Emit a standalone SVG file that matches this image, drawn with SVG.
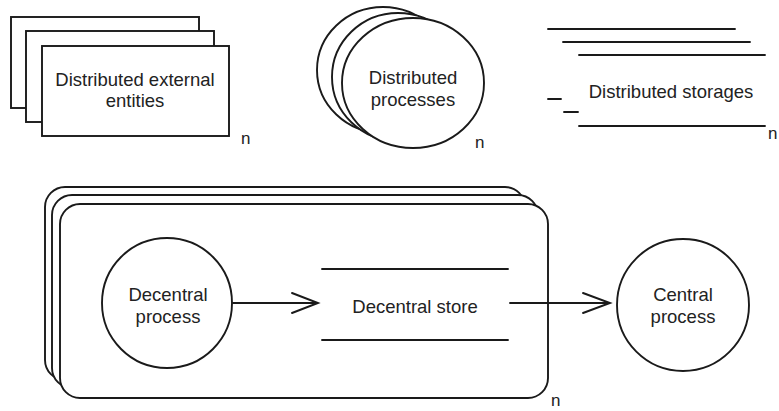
<svg xmlns="http://www.w3.org/2000/svg" width="779" height="411" viewBox="0 0 779 411">
<style>
.s{fill:#fff;stroke:#1a1a1a;stroke-width:1.9}
.l{fill:none;stroke:#1a1a1a;stroke-width:1.9;stroke-linecap:round}
.t{font-family:"Liberation Sans",Arial,sans-serif;font-size:18.5px;fill:#222;text-anchor:middle}
.n{font-family:"Liberation Sans",Arial,sans-serif;font-size:17px;fill:#222}
</style>
<rect width="779" height="411" fill="#fff"/>
<g id="ext-entities">
<rect class="s" x="11" y="17" width="188" height="91"/>
<rect class="s" x="26" y="31" width="188" height="91"/>
<rect class="s" x="42" y="46" width="187" height="90"/>
<text class="t" x="135" y="86">Distributed external</text>
<text class="t" x="135" y="107">entities</text>
<text class="n" x="241" y="144">n</text>
</g>
<g id="dist-processes">
<ellipse class="s" cx="383" cy="70" rx="66" ry="63"/>
<ellipse class="s" cx="398" cy="77" rx="66" ry="64"/>
<ellipse class="s" cx="413" cy="83" rx="71" ry="65"/>
<text class="t" x="413" y="84">Distributed</text>
<text class="t" x="413" y="106">processes</text>
<text class="n" x="475" y="148">n</text>
</g>
<g id="dist-storages">
<line class="l" x1="548" y1="29" x2="735" y2="29"/>
<line class="l" x1="563" y1="42" x2="750" y2="42"/>
<line class="l" x1="579" y1="55" x2="765" y2="55"/>
<line class="l" x1="548" y1="99" x2="561" y2="99"/>
<line class="l" x1="564" y1="112" x2="578" y2="112"/>
<line class="l" x1="579" y1="126" x2="765" y2="126"/>
<text class="t" x="671" y="98">Distributed storages</text>
<text class="n" x="768" y="139">n</text>
</g>
<g id="container">
<rect class="s" x="45" y="187" width="480" height="193" rx="20"/>
<rect class="s" x="52" y="195" width="486" height="193" rx="20"/>
<rect class="s" x="60" y="204" width="488" height="194" rx="20"/>
<text class="n" x="551" y="406">n</text>
</g>
<g id="decentral-process">
<circle class="s" cx="167" cy="303" r="65"/>
<text class="t" x="168" y="301">Decentral</text>
<text class="t" x="168" y="323">process</text>
</g>
<g id="decentral-store">
<line class="l" x1="322" y1="269" x2="508" y2="269"/>
<line class="l" x1="322" y1="340" x2="508" y2="340"/>
<text class="t" x="415" y="313">Decentral store</text>
</g>
<g id="central-process">
<circle class="s" cx="683" cy="305" r="66"/>
<text class="t" x="683" y="301">Central</text>
<text class="t" x="683" y="323">process</text>
</g>
<g id="connectors">
<path class="l" d="M233 303 L317 303 M292 293 L318 303 L292 313" stroke-width="2.3"/>
<path class="l" d="M510 303 L609 303 M583 293 L610 303 L583 313" stroke-width="2.3"/>
</g>
</svg>
